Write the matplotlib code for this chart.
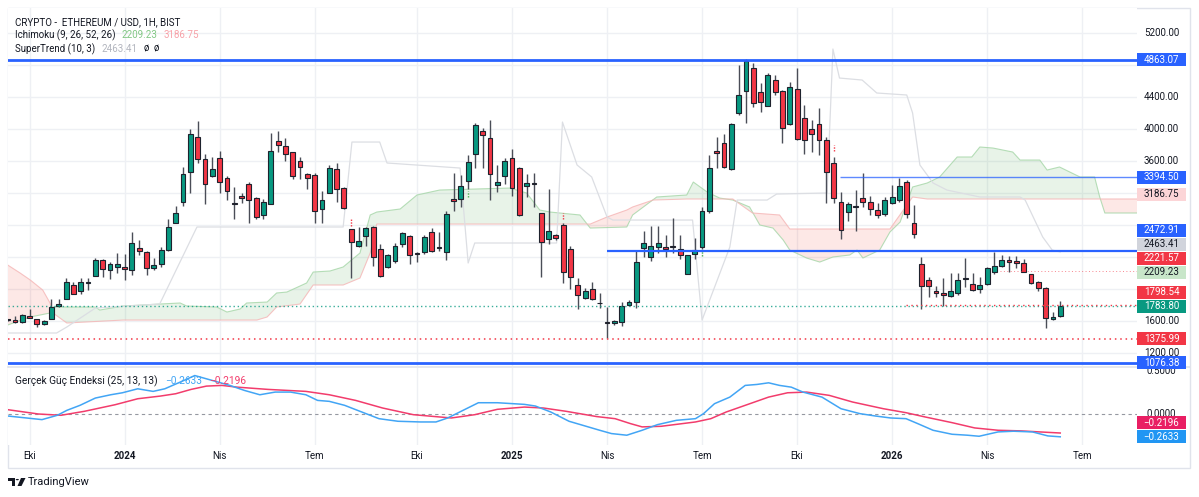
import matplotlib
matplotlib.use('Agg')
import matplotlib.pyplot as plt
import numpy as np
import pandas as pd
from matplotlib.patches import Rectangle, Polygon, Circle

plt.rcParams['font.family'] = ['Roboto', 'DejaVu Sans']

# ---------------- data ----------------
start_date = '2023-09-11'   # weekly bars (Monday)

opens = [1615, 1612, 1583, 1666, 1629, 1558, 1629, 1787, 1879, 2046, 1979, 2075, 2167, 2367, 2242, 2271, 2279, 2237, 2512, 2462,
         2267, 2308, 2487, 2829, 3092, 3467, 3896, 3629, 3417, 3633, 3392, 3071, 3158, 3308, 3133, 2925, 3067, 3854, 3787, 3708,
         3596, 3437, 3421, 2996, 3204, 3500, 3258, 2746, 2542, 2662, 2771, 2496, 2271, 2354, 2562, 2662, 2450, 2462, 2708, 2525,
         2467, 3125, 3125, 3346, 3687, 3979, 3887, 3296, 3408, 3633, 3517, 3292, 3321, 2946, 2625, 2671, 2800, 2504, 2050, 1892,
         1996, 1829, 1587, 1579, 1583, 1804, 1833, 2508, 2396, 2521, 2525, 2542, 2504, 2187, 2433, 2529, 2979, 3729, 3829, 3496,
         4204, 4479, 4762, 4458, 4292, 4612, 4475, 4058, 4500, 4133, 3996, 4062, 3862, 3579, 3092, 2967, 3029, 3133, 3083, 2983,
         2933, 3079, 3108, 3342, 2821, 2312, 2112, 1971, 1946, 1917, 1954, 2133, 2058, 1996, 2062, 2217, 2287, 2362, 2354, 2321,
         2187, 2087, 2008, 1629, 1667]
highs = [1625, 1662, 1683, 1746, 1629, 1612, 1871, 1871, 2133, 2092, 2133, 2142, 2387, 2375, 2337, 2446, 2433, 2717, 2612, 2471,
         2387, 2525, 2875, 3037, 3521, 3996, 4100, 3683, 3654, 3729, 3417, 3271, 3196, 3342, 3154, 3121, 3946, 3979, 3883, 3717,
         3654, 3454, 3446, 3229, 3550, 3571, 3271, 2750, 2779, 2779, 2787, 2558, 2437, 2579, 2717, 2675, 2467, 2675, 2767, 2717,
         2975, 3446, 3425, 3675, 4079, 4008, 4112, 3550, 3633, 3746, 3529, 3437, 3446, 2946, 3246, 2683, 2821, 2542, 2142, 2017,
         2092, 1946, 1779, 1612, 1833, 1862, 2479, 2729, 2787, 2787, 2679, 2883, 2679, 2425, 2633, 3029, 3675, 3900, 3933, 4071,
         4800, 4871, 4821, 4571, 4696, 4679, 4487, 4592, 4758, 4300, 4112, 4258, 3904, 3650, 3217, 3092, 3237, 3446, 3167, 3079,
         3154, 3300, 3392, 3362, 3050, 2396, 2154, 2042, 2142, 2196, 2196, 2383, 2196, 2154, 2279, 2467, 2425, 2417, 2417, 2379,
         2187, 2104, 2021, 1708, 1854]
lows = [1600, 1571, 1571, 1633, 1521, 1546, 1629, 1779, 1871, 1933, 1933, 1987, 2158, 2154, 2125, 2196, 2112, 2175, 2425, 2171,
        2237, 2279, 2479, 2821, 3042, 3204, 3571, 3067, 3396, 3204, 3112, 2871, 3071, 2825, 2875, 2871, 3058, 3708, 3604, 3371,
        3371, 3246, 2821, 2821, 3196, 3092, 2996, 2133, 2529, 2542, 2292, 2154, 2267, 2330, 2529, 2312, 2333, 2437, 2462, 2479,
        2362, 2975, 3029, 3254, 3508, 3508, 3112, 3217, 3312, 3162, 2910, 3154, 3021, 2154, 2558, 2608, 2079, 2000, 1754, 1879,
        1862, 1758, 1392, 1550, 1537, 1792, 1758, 2404, 2354, 2446, 2396, 2446, 2371, 2187, 2375, 2504, 2946, 3517, 3508, 3487,
        4175, 4071, 4279, 4217, 4287, 4425, 3829, 4050, 3862, 3683, 3717, 3675, 3071, 3071, 2625, 2854, 2725, 3021, 2925, 2883,
        2917, 3062, 3092, 2883, 2642, 1746, 1896, 1896, 1792, 1904, 1925, 2029, 1979, 1954, 2050, 2187, 2271, 2217, 2267, 2208,
        2062, 1979, 1508, 1612, 1654]
closes = [1610, 1583, 1671, 1641, 1558, 1600, 1779, 1808, 2083, 1942, 2087, 2092, 2362, 2246, 2312, 2308, 2246, 2571, 2479, 2258,
          2296, 2487, 2779, 2946, 3437, 3937, 3629, 3312, 3496, 3333, 3225, 3067, 3142, 3112, 2896, 3083, 3729, 3796, 3687, 3417,
          3521, 3392, 2979, 3112, 3508, 3250, 3017, 2587, 2604, 2758, 2404, 2167, 2421, 2537, 2696, 2429, 2437, 2646, 2479, 2517,
          2933, 3100, 3292, 3587, 4050, 3921, 3442, 3342, 3600, 3258, 2925, 3321, 3317, 2587, 2729, 2633, 2212, 2154, 1921, 1975,
          1871, 1821, 1571, 1600, 1792, 1842, 2337, 2571, 2537, 2579, 2500, 2529, 2425, 2425, 2483, 2975, 3517, 3696, 3529, 4062,
          4425, 4850, 4321, 4342, 4675, 4458, 4012, 4529, 3871, 3862, 3937, 3862, 3467, 3133, 2737, 3062, 3025, 3083, 2996, 2925,
          3112, 3146, 3292, 2933, 2683, 2037, 2037, 1946, 1925, 1979, 2112, 2125, 1987, 2050, 2258, 2283, 2362, 2333, 2321, 2217,
          2071, 2008, 1633, 1654, 1783.80]

# Ichimoku leading spans (bar index, value)
span_a_idx = [0, 3.1, 5.8, 6.2, 12, 12.6, 15.8, 20.8, 23.6, 24.5, 28.6, 30, 31.8, 32.7, 35.5, 36.8, 38.2, 40.9, 41.8, 44.1,
              45.9, 48.2, 49.6, 50.5, 53.7, 56, 59.1, 68.7, 71, 72.8, 74.2, 78.3, 79.7, 84.7, 85.5, 88.8, 92.9, 93.8, 95.7, 97.4,
              99.2, 101.5, 102.9, 104.7, 106.1, 107, 109.3, 111.1, 112.9, 115.2, 116.2, 117, 119.3, 120.7, 122.1, 123.8, 125.8,
              127.5, 129.9, 131.9, 133, 134.8, 137.5, 138.5, 141.2, 142.2, 143.9, 146.7, 148.7, 149.4, 150.1, 154.5]
span_a_val = [1550, 1650, 1700, 1775, 1775, 1737, 1787, 1812, 1825, 1787, 1775, 1712, 1750, 1825, 1837, 1950, 1962, 2075, 2212, 2225,
              2275, 2450, 2925, 2962, 3000, 3175, 3237, 3262, 3200, 2987, 2962, 2925, 2762, 2775, 2925, 3150, 3175, 3337, 3212, 3137,
              3112, 3025, 2800, 2762, 2612, 2487, 2387, 2337, 2400, 2425, 2487, 2387, 2487, 2712, 2837, 3275, 3325,
              3400, 3650, 3650, 3775, 3762, 3712, 3612, 3612, 3487, 3525, 3400, 3400, 3150, 2950, 2950]
span_b_idx = [0, 1.7, 3.1, 4.8, 5.8, 6.2, 8.1, 15.8, 34.1, 35.5, 36.8, 40, 41.8, 45.9, 48.2, 49.6, 50.5, 79.7, 82, 84.7, 85.5,
              88.3, 92.9, 99.2, 101.9, 105.6, 107, 120.7, 123.8, 125.8, 149.4, 154.5]
span_b_val = [2300, 2200, 2112, 1987, 1825, 1700, 1575, 1612, 1612, 1650, 1775, 1812, 2050, 2050, 2137, 2450, 2812, 2812, 2900, 2987, 3025,
              3112, 3125, 3125, 2950, 2925, 2750, 2750, 3150, 3125, 3125, 3125]

# SuperTrend-style grey line (bar index, value)
st_idx = [0, 6.7, 8.1, 12, 20.8, 25.9, 45.9, 47.1, 50.9, 51.9, 61.9, 63, 63.9, 75.1, 75.9, 77.9, 79.9, 82, 82.8, 93.7, 95,
          98.8, 99.8, 103.9, 105.2, 112.1, 112.9, 113.8, 116.9, 118.9, 123, 123.8, 124.8, 126.6, 128.5, 133, 138.5, 139.2,
          141.6, 142.9, 144]
st_val = [1450, 1450, 1525, 1762, 1812, 2775, 2775, 3837, 3837, 3575, 3512, 2325, 2575, 2575, 4087, 3550, 3400, 2900, 2862, 2862, 1612,
          2525, 3112, 3112, 3187, 3200, 5000, 4637, 4612, 4450, 4425, 4200, 3550, 3325, 3237, 3150, 3150, 3112,
          2650, 2487, 2463.41]

# signal marks
sig_idx = [47, 76, 113, 63, 95]
sig_val = [2830, 2910, 3760, 3190, 2450]
sig_col = ['#f23645', '#f23645', '#f23645', '#4caf50', '#4caf50']

# horizontal levels: (value, start bar index or None for full width)
blue_levels = [(4863.07, None, 2.0, 1.0), (3394.50, 113.9, 1.0, 0.75), (2472.91, 82.0, 1.6, 1.0), (1076.38, None, 2.0, 1.0)]
red_dotted = [(1375.99, None), (1798.54, 122.9), (2221.57, 135.8)]
last_price = 1783.80

# True Strength Index (bar index, value)
tsi_idx = [0, 4.7, 6.8, 8.1, 9.9, 12, 14.1, 15.7, 17.8, 19.9, 21.5, 23.6, 25.6, 27.2, 28.8, 30.4, 32.4, 34.5, 36.6, 38.7,
           40.8, 42.4, 44, 46.1, 48.2, 50.8, 53.4, 56.5, 58.6, 60.2, 62.3, 64.4, 67, 70.7, 72.2, 74.3, 76.8, 81, 82.6, 84.7,
           86.8, 88.9, 91.5, 94.1, 95.2, 96.7, 98.8, 100.9, 102.5, 104.1, 105.6, 107.2, 108.8, 111.4, 114, 116.6, 118.7,
           120.8, 122.9, 124.5, 126.6, 129.2, 131.3, 132.9, 135.5, 137.6, 140.2, 142.3, 144]
tsi_val = [-0.023, -0.065, -0.015, 0.042, 0.1, 0.184, 0.222, 0.245, 0.291, 0.261, 0.291, 0.368, 0.444, 0.406, 0.368, 0.33,
           0.272, 0.222, 0.253, 0.253, 0.222, 0.157, 0.146, 0.1, 0.031, -0.054, -0.084, -0.092, -0.092, -0.046, 0.042, 0.13,
           0.13, 0.111, 0.092, 0.023, -0.084, -0.188, -0.226, -0.245, -0.188, -0.123, -0.073, -0.054, 0.004, 0.119, 0.195,
           0.33, 0.341, 0.36, 0.33, 0.31, 0.253, 0.195, 0.061, 0.004, -0.023, -0.046, -0.054, -0.111, -0.188, -0.234, -0.245,
           -0.257, -0.207, -0.199, -0.207, -0.253, -0.2633]
sig_line_idx = [0, 4.2, 7.3, 10.5, 14.7, 17.8, 20.9, 23, 25.1, 27.2, 29.3, 31.4, 35.6, 40.8, 44, 47.6, 51.3, 55.5, 60.7, 63.9,
                67, 70.7, 73.3, 76.4, 80.6, 83.1, 85.2, 86.8, 89.4, 94.1, 96.2, 98.3, 100.9, 104.1, 106.7, 109.3, 112.4, 115.6,
                119.8, 122.9, 125.5, 129.2, 132.3, 135.5, 138.6, 141.2, 144]
sig_line_val = [0.05, 0.0, -0.015, 0.031, 0.107, 0.176, 0.207, 0.234, 0.284, 0.322, 0.33, 0.31, 0.284, 0.261, 0.222, 0.157,
                0.069, -0.008, -0.046, -0.008, 0.054, 0.08, 0.069, 0.031, -0.03, -0.054, -0.111, -0.149, -0.142, -0.092,
                -0.054, 0.023, 0.1, 0.195, 0.245, 0.253, 0.215, 0.138, 0.061, 0.015, -0.034, -0.1, -0.161, -0.188, -0.195,
                -0.207, -0.2196]

price_ticks = [1200, 1600, 2000, 2400, 2800, 3200, 3600, 4000, 4400, 4800, 5200]
tsi_ticks = [0.0, 0.5]
month_names = {1: None, 4: 'Nis', 7: 'Tem', 10: 'Eki'}

# ---------------- figure ----------------
W, H = 1199, 497
fig = plt.figure(figsize=(W / 100, H / 100), dpi=100)
fig.patch.set_facecolor('white')

def fx(px):
    return px / W

def fy(py):
    return 1 - py / H

PL, PR = 8, 1137
ax = fig.add_axes([fx(PL), fy(366), fx(PR) - fx(PL), fy(8) - fy(366)])
ax2 = fig.add_axes([fx(PL), fy(445), fx(PR) - fx(PL), fy(368) - fy(445)])
XL = (0.05, 154.5)
for a in (ax, ax2):
    a.set_xlim(*XL)
    for s in a.spines.values():
        s.set_visible(False)
    a.set_xticks([])
    a.set_yticks([])
ax.set_ylim(1037.5, 5512.5)
ax2.set_ylim(-0.358, 0.531)

# time ticks
dates = pd.date_range(start_date, periods=170, freq='W-MON')
tick_pos, tick_lab, tick_bold = [], [], []
for i in range(1, len(dates)):
    d, p = dates[i], dates[i - 1]
    if d.month != p.month and d.month in month_names and i <= XL[1]:
        tick_pos.append(i)
        if d.month == 1:
            tick_lab.append(str(d.year)); tick_bold.append(True)
        else:
            tick_lab.append(month_names[d.month]); tick_bold.append(False)

grid_c = '#eef0f4'
for a in (ax, ax2):
    for t in tick_pos:
        a.axvline(t, color=grid_c, lw=1, zorder=0)
for p in price_ticks:
    ax.axhline(p, color=grid_c, lw=1, zorder=0)

# Ichimoku cloud
xs = np.union1d(span_a_idx, span_b_idx)
A = np.interp(xs, span_a_idx, span_a_val)
B = np.interp(xs, span_b_idx, span_b_val)
ax.fill_between(xs, A, B, where=A >= B, interpolate=True, color='#43a047', alpha=0.12, lw=0, zorder=1)
ax.fill_between(xs, A, B, where=A < B, interpolate=True, color='#f44336', alpha=0.12, lw=0, zorder=1)
ax.plot(span_a_idx, span_a_val, color='#a5d6a7', lw=0.8, alpha=0.8, zorder=1)
ax.plot(span_b_idx, span_b_val, color='#f5b5b5', lw=0.8, alpha=0.8, zorder=1)

# grey line
ax.plot(st_idx, st_val, color='#dcdee3', lw=0.9, zorder=2)

# levels
for v, s, lw, al in blue_levels:
    if s is None:
        ax.axhline(v, color='#2962ff', lw=lw, alpha=al, zorder=6)
    else:
        ax.hlines(v, s, XL[1], color='#2962ff', lw=lw, alpha=al, zorder=6)
ax.axhline(last_price, color='#089981', lw=1, ls=(0, (1, 2)), alpha=0.8, zorder=5)
for v, s in red_dotted:
    if s is None:
        ax.axhline(v, color='#f23645', lw=1.1, ls=(0, (1, 2.5)), zorder=5)
    else:
        ax.hlines(v, s, XL[1], color='#f23645', lw=1.0 if v < 2000 else 0.7, ls=(0, (1, 2.5)),
                  alpha=1.0 if v < 2000 else 0.6, zorder=5)

# candles
o = np.array(opens, float); h = np.array(highs, float)
l = np.array(lows, float); c = np.array(closes, float)
x = np.arange(len(o))
up = c >= o
col = np.where(up, '#089981', '#f23645')
ax.vlines(x, l, h, color='#4a4d57', lw=1, zorder=3)
bb = np.minimum(o, c)
bh = np.maximum(np.abs(c - o), 10)
ax.bar(x, bh, bottom=bb, width=0.66, color=col, edgecolor='#1e222d', linewidth=0.8, zorder=4)

for xi, vi, ci in zip(sig_idx, sig_val, sig_col):
    ax.plot([xi, xi], [vi - 40, vi + 40], color=ci, lw=1, ls=(0, (1, 1)), zorder=4)

# TSI pane
ax2.axhline(0, color='#9598a1', lw=0.8, ls=(0, (3, 3)), zorder=1)
ax2.plot(sig_line_idx, sig_line_val, color='#f23c6c', lw=1.1, zorder=3)
ax2.plot(tsi_idx, tsi_val, color='#42a5f5', lw=1.1, zorder=4)

# frame lines
fig.add_artist(Rectangle((fx(8), fy(468)), fx(1190) - fx(8), fy(8) - fy(468), transform=fig.transFigure,
                         fill=False, edgecolor='#e0e3eb', lw=1, zorder=0))
fig.add_artist(plt.Line2D([fx(8), fx(1190)], [fy(367), fy(367)], transform=fig.transFigure, color='#e0e3eb', lw=1.2))

TXT = '#131722'
FS = 7


def place_labels(axis, items):
    pts = []
    for v, t, bg, fg in items:
        pts.append([axis.transData.transform((0, v))[1], t, bg, fg])
    pts.sort(key=lambda q: q[0])
    prev = -1e9
    for q in pts:
        q[0] = max(q[0], prev + 14)
        prev = q[0]
    return pts


main_labels = place_labels(ax, [
    (4863.07, '4863.07', '#2962ff', 'white'),
    (3394.50, '3394.50', '#2962ff', 'white'),
    (3186.75, '3186.75', '#fcd5d7', TXT),
    (2472.91, '2472.91', '#2962ff', 'white'),
    (2463.41, '2463.41', '#d1d4dc', TXT),
    (2221.57, '2221.57', '#f23645', 'white'),
    (2209.23, '2209.23', '#c8e6c9', TXT),
    (1798.54, '1798.54', '#f23645', 'white'),
    (1783.80, '1783.80', '#089981', 'white'),
    (1375.99, '1375.99', '#f23645', 'white'),
    (1076.38, '1076.38', '#2962ff', 'white'),
])
tsi_labels = place_labels(ax2, [
    (-0.2196, '\u22120.2196', '#e91e63', 'white'),
    (-0.2633, '\u22120.2633', '#2196f3', 'white'),
])
all_label_y = [q[0] for q in main_labels + tsi_labels]

# price-axis tick labels (hidden where a value label sits on them)
for p in price_ticks:
    yd = ax.transData.transform((0, p))[1]
    if fy(366) * H <= yd <= fy(8) * H and min(abs(yd - q) for q in all_label_y) > 8:
        fig.text(fx(1161.5), yd / H, f'{p:.2f}', color=TXT, fontsize=FS, ha='center', va='center', zorder=5)
for t in tsi_ticks:
    yd = ax2.transData.transform((0, t))[1]
    fig.text(fx(1161.5), yd / H, f'{t:.4f}', color=TXT, fontsize=FS, ha='center', va='center', zorder=5)

for yd, t, bg, fg in main_labels + tsi_labels:
    fig.add_artist(Rectangle((fx(1137), (yd - 6.5) / H), 49 / W, 13 / H, transform=fig.transFigure,
                             facecolor=bg, edgecolor='none', zorder=10))
    fig.text(fx(1161.5), yd / H, t, color=fg, fontsize=FS, ha='center', va='center', zorder=11)

# time labels
for t, lab, b in zip(tick_pos, tick_lab, tick_bold):
    xd = ax.transData.transform((t, 0))[0]
    fig.text(xd / W, fy(456), lab, color=TXT, fontsize=FS, ha='center', va='center',
             fontweight='bold' if b else 'normal')

# legends
renderer = fig.canvas.get_renderer()


def inline(parts, x0, y, size=FS):
    xx = x0
    for txt, colr, gap in parts:
        t = fig.text(xx / W, fy(y), txt, color=colr, fontsize=size, ha='left', va='center', zorder=12)
        ext = t.get_window_extent(renderer=renderer)
        xx = ext.x1 + gap


inline([('CRYPTO -  ETHEREUM / USD, 1H, BIST', TXT, 0)], 15, 22)
inline([('Ichimoku (9, 26, 52, 26)', TXT, 6), ('2209.23', '#81c784', 6), ('3186.75', '#f7a1a8', 0)], 15, 35.5)
inline([('SuperTrend (10, 3)', TXT, 6), ('2463.41', '#b2b5be', 6), ('\u00f8', TXT, 5), ('\u00f8', TXT, 0)], 15, 49)
inline([('Ger\u00e7ek G\u00fc\u00e7 Endeksi (25, 13, 13)', TXT, 7), ('\u22120.2633', '#42a5f5', 7),
        ('\u22120.2196', '#f23c6c', 0)], 15, 381.5, size=7.3)

# TradingView logo
fig.add_artist(Polygon([(fx(8), fy(478)), (fx(15), fy(478)), (fx(15), fy(486)), (fx(12), fy(486)),
                        (fx(12), fy(481)), (fx(8), fy(481))], closed=True, transform=fig.transFigure,
                       facecolor='#131722', edgecolor='none'))
fig.add_artist(Circle((fx(17.3), fy(479.6)), 1.6 / W, transform=fig.transFigure, facecolor='#131722', edgecolor='none'))
fig.add_artist(Polygon([(fx(21), fy(478)), (fx(25.5), fy(478)), (fx(21.5), fy(486)), (fx(17.5), fy(486))],
                       closed=True, transform=fig.transFigure, facecolor='#131722', edgecolor='none'))
fig.text(fx(28), fy(482), 'TradingView', color='#131722', fontsize=8, ha='left', va='center')

fig.savefig('out.png', dpi=100, facecolor='white')
